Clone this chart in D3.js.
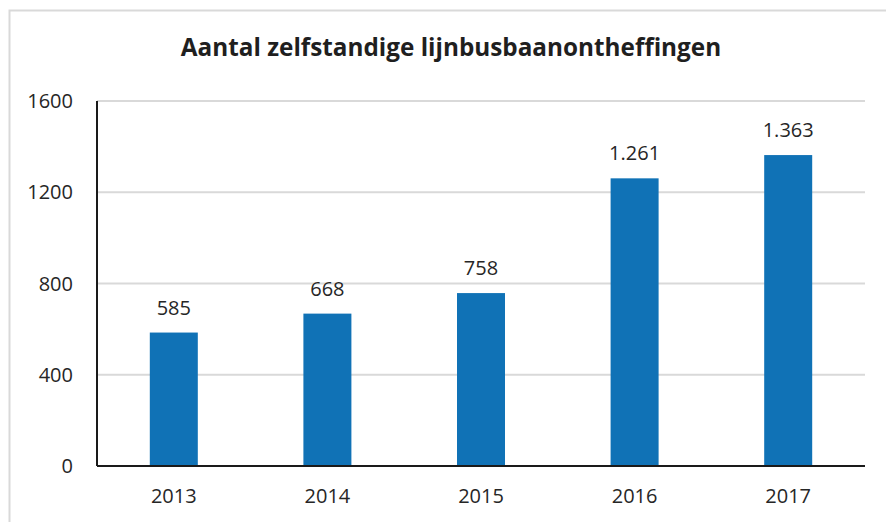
<!DOCTYPE html>
<html lang="nl">
<head>
    <meta charset="UTF-8">
    <title>Aantal zelfstandige lijnbusbaanontheffingen</title>
    <script src="https://d3js.org/d3.v7.min.js"></script>
    <style>
        body { margin: 0; background: #fff; }
        text { font-family: "Open Sans", sans-serif; fill: #262626; }
        .title { font-size: 24.3px; font-weight: bold; fill: #1f1f1f; }
        .tick-label, .bar-label { font-size: 20px; }
    </style>
</head>
<body>
    <div id="chart"></div>
    <script>
        // Data
        const years = ["2013", "2014", "2015", "2016", "2017"];
        const counts = [585, 668, 758, 1261, 1363];
        const countLabels = ["585", "668", "758", "1.261", "1.363"];
        const yTicks = [0, 400, 800, 1200, 1600];

        const W = 886, H = 522;
        const margin = {top: 101, right: 21, bottom: 56, left: 97};
        const width = W - margin.left - margin.right,
              height = H - margin.top - margin.bottom;

        const svg = d3.select("#chart").append("svg")
            .attr("width", W).attr("height", H);

        // outer border (only top/left visible in the reference)
        svg.append("rect")
           .attr("x", 9.5).attr("y", 10.5)
           .attr("width", W + 20).attr("height", H + 20)
           .attr("fill", "none").attr("stroke", "#d9d9d9").attr("stroke-width", 2);

        svg.append("text")
           .attr("class", "title")
           .attr("x", 451).attr("y", 56)
           .attr("text-anchor", "middle")
           .text("Aantal zelfstandige lijnbusbaanontheffingen");

        const g = svg.append("g").attr("transform", `translate(${margin.left},${margin.top})`);

        const x = d3.scaleBand().domain(years).range([0, width]).padding(0);
        const y = d3.scaleLinear().domain([0, 1600]).range([height, 0]);
        const barW = x.bandwidth() * 0.3125;

        // gridlines
        g.selectAll(".grid").data(yTicks.slice(1)).enter().append("line")
         .attr("x1", 0).attr("x2", width)
         .attr("y1", d => y(d)).attr("y2", d => y(d))
         .attr("stroke", "#d9d9d9").attr("stroke-width", 2);

        // y tick labels
        g.selectAll(".ytick").data(yTicks).enter().append("text")
         .attr("class", "tick-label")
         .attr("x", -24).attr("y", d => y(d))
         .attr("dy", "0.35em")
         .attr("text-anchor", "end")
         .text(d => d);

        // bars
        g.selectAll(".bar").data(counts).enter().append("rect")
         .attr("x", (d, i) => x(years[i]) + (x.bandwidth() - barW) / 2)
         .attr("y", d => y(d))
         .attr("width", barW)
         .attr("height", d => height - y(d))
         .attr("fill", "#1072b6");

        // value labels
        g.selectAll(".bar-label").data(counts).enter().append("text")
         .attr("class", "bar-label")
         .attr("x", (d, i) => x(years[i]) + x.bandwidth() / 2)
         .attr("y", d => y(d) - 18)
         .attr("text-anchor", "middle")
         .text((d, i) => countLabels[i]);

        // x labels
        g.selectAll(".xtick").data(years).enter().append("text")
         .attr("class", "tick-label")
         .attr("x", d => x(d) + x.bandwidth() / 2)
         .attr("y", height + 37)
         .attr("text-anchor", "middle")
         .text(d => d);

        // axes lines
        g.append("line")
         .attr("x1", 0).attr("x2", width)
         .attr("y1", height).attr("y2", height)
         .attr("stroke", "#1a1a1a").attr("stroke-width", 2);
        g.append("line")
         .attr("x1", 0).attr("x2", 0)
         .attr("y1", 0).attr("y2", height)
         .attr("stroke", "#1a1a1a").attr("stroke-width", 2);
    </script>
</body>
</html>
